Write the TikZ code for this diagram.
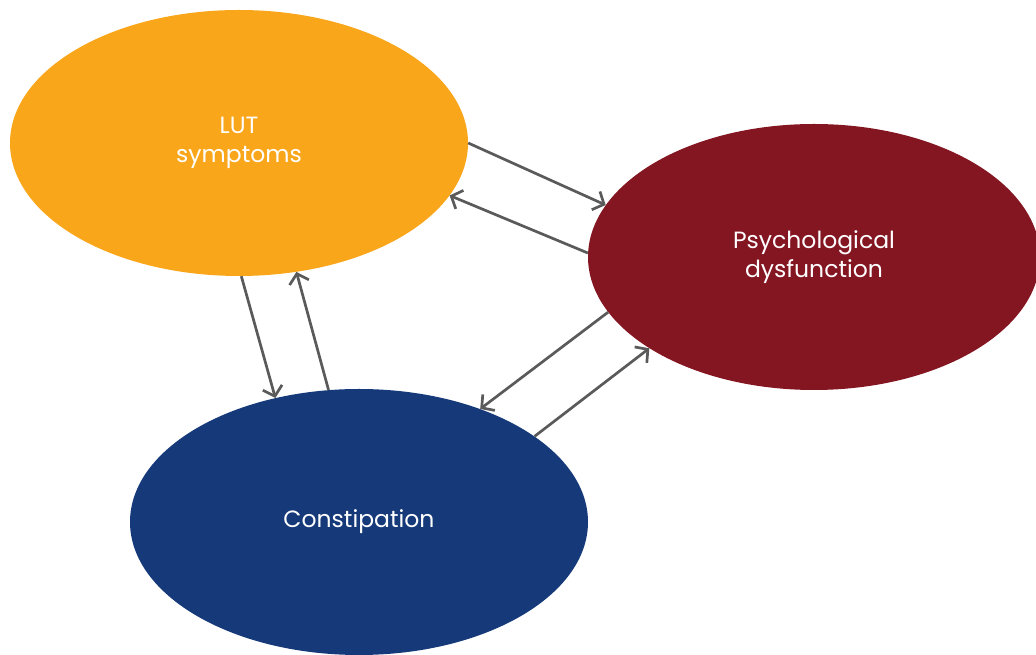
\documentclass[tikz,border=0pt]{standalone}
\usepackage{fontspec}
\setmainfont{Poppins}
\usetikzlibrary{shapes.geometric,arrows.meta}
\definecolor{lutc}{HTML}{F9A61A}
\definecolor{psyc}{HTML}{841622}
\definecolor{conc}{HTML}{163A79}
\definecolor{arrc}{HTML}{5A5A5A}
\tikzset{
  blob/.style={ellipse, inner sep=0pt, minimum width=458pt, minimum height=266pt,
    text=white, align=center, font=\fontsize{23.5}{29}\selectfont},
  link/.style={draw=arrc, line width=2.7pt, -{Straight Barb[length=9pt,width=20pt,line width=2.7pt]}}
}
\begin{document}
\begin{tikzpicture}[x=1pt,y=1pt]
\useasboundingbox (0,0) rectangle (1036,655);
\clip (0,0) rectangle (1036,655);
\node[blob, fill=lutc] (lut) at (239,512) {LUT\\symptoms};
\node[blob, fill=psyc, minimum width=452pt] (psy) at (814,398) {Psychological\\dysfunction};
\node[blob, fill=conc] (con) at (359,133) {Constipation};
\draw[link] (lut.-0.5) -- (psy.166);
\draw[link] (psy.179) -- (lut.-14);
\draw[link] (lut.-89) -- (con.124);
\draw[link] (con.103) -- (lut.-66.5);
\draw[link] (psy.195.3) -- (con.43);
\draw[link] (con.26) -- (psy.209.4);
\end{tikzpicture}
\end{document}
